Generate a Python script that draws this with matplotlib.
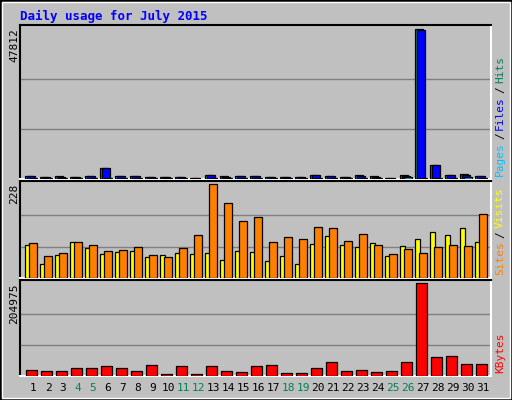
import matplotlib
matplotlib.use("Agg")
import matplotlib.pyplot as plt
from matplotlib.patches import Rectangle

days = list(range(1, 32))
weekend_days = [4, 5, 11, 12, 18, 19, 25, 26]

hits = [1100, 700, 1000, 600, 1100, 3600, 1000, 1000, 600, 600, 600, 300, 1300, 1000, 1000,
        1000, 600, 600, 600, 1300, 1000, 600, 1300, 1000, 300, 1300, 47812, 4500, 1300, 1700, 1000]
files = [900, 500, 700, 500, 900, 3600, 900, 900, 500, 500, 500, 200, 1200, 700, 900,
         900, 500, 500, 500, 1200, 900, 500, 1000, 700, 200, 1100, 47500, 4500, 1200, 1300, 900]
pages = [300, 200, 300, 200, 300, 300, 300, 300, 200, 200, 200, 100, 300, 300, 300,
         300, 200, 200, 200, 300, 300, 200, 300, 300, 100, 700, 300, 300, 300, 700, 300]

visits = [80, 35, 55, 87, 72, 58, 63, 65, 50, 55, 60, 58, 60, 43, 65, 63, 40, 53, 35, 82,
          102, 80, 75, 85, 53, 77, 95, 112, 105, 122, 87]
sites = [85, 53, 60, 87, 80, 65, 67, 75, 55, 50, 72, 105, 228, 181, 137, 147, 87, 100, 95, 124,
         122, 90, 107, 80, 58, 70, 60, 75, 80, 78, 154]

kbytes = [14200, 12000, 12000, 16500, 16500, 21000, 16500, 12000, 23200, 5200, 21000, 5200,
          21000, 12000, 9700, 21000, 23200, 7500, 7500, 16500, 30000, 12000, 14200, 9700,
          12000, 30000, 204975, 41100, 43400, 25400, 25400]

W, H = 512, 400
BG = "#C0C0C0"
fig = plt.figure(figsize=(W / 100, H / 100), dpi=100, facecolor=BG)
mono = "DejaVu Sans Mono"
renderer = fig.canvas.get_renderer()

# outer border
fig.add_artist(Rectangle((0, 0), 1, 1, transform=fig.transFigure, fill=False,
                         edgecolor="black", lw=2))
fig.add_artist(Rectangle((2 / W, 2 / H), 1 - 4 / W, 1 - 4 / H, transform=fig.transFigure,
                         fill=False, edgecolor="white", lw=1))

fig.text(20 / W, 1 - 16 / H, "Daily usage for July 2015", color="#0000FF",
         fontsize=9, fontweight="bold", family=mono, va="center")


def panel(y0, y1):
    ax = fig.add_axes([20 / W, 1 - y1 / H, 471 / W, (y1 - y0) / H])
    ax.set_facecolor(BG)
    ax.set_xlim(0.13, 31.53)
    ax.set_xticks([])
    ax.set_yticks([])
    for s in ["left", "top"]:
        ax.spines[s].set_color("black")
        ax.spines[s].set_linewidth(1.5)
    for s in ["right", "bottom"]:
        ax.spines[s].set_color("white")
        ax.spines[s].set_linewidth(1.5)
    return ax


def bars(ax, vals, off, width, color):
    ax.bar([d + off / 15 for d in days], vals, width=width / 15, align="edge",
           color=color, edgecolor="black", linewidth=0.9, zorder=3)


def grid(ax, vmax):
    ax.set_ylim(0, vmax * 1.03)
    for f in (1 / 3, 2 / 3):
        ax.axhline(vmax * f, color="#808080", lw=1, zorder=1)


def side_labels(y0, y1, maxval, parts):
    fig.text(14 / W, 1 - y0 / H - 3 / H, str(maxval), rotation=90, ha="center", va="top",
             family=mono, fontsize=8)
    x = 500 / W
    # stack right label parts from bottom up, measuring each piece
    y = 1 - (y1 - 3) / H
    for txt, col in parts:
        t = fig.text(x, y, txt, rotation=90, ha="center", va="bottom", family=mono,
                     fontsize=8, color=col)
        bb = t.get_window_extent(renderer)
        y += (bb.height + 3) / H


# top panel: hits / files / pages
ax1 = panel(25, 179)
grid(ax1, 47812)
bars(ax1, hits, -8, 8, "#00805C")
bars(ax1, files, -6, 8, "#0000FF")
bars(ax1, pages, -4, 8, "#00C0FF")
side_labels(25, 179, 47812, [("Pages", "#00C0FF"), ("/", "black"), ("Files", "#0000FF"),
                             ("/", "black"), ("Hits", "#00805C")])

# middle panel: visits / sites
ax2 = panel(181, 278)
grid(ax2, 228)
bars(ax2, visits, -8, 5, "#FFFF00")
bars(ax2, sites, -4, 8, "#FF8000")
side_labels(181, 278, 228, [("Sites", "#FF8000"), ("/", "black"), ("Visits", "#FFFF00")])

# bottom panel: kbytes
ax3 = panel(280, 376)
grid(ax3, 204975)
bars(ax3, kbytes, -7, 11, "#FF0000")
side_labels(280, 376, 204975, [("KBytes", "#FF0000")])

for d in days:
    x = (33 + (d - 1) * 15) / W
    fig.text(x, 1 - 388 / H, str(d), ha="center", va="center", fontsize=8, family=mono,
             color="#00805C" if d in weekend_days else "black")

fig.savefig("out.png", dpi=100, facecolor=BG)
